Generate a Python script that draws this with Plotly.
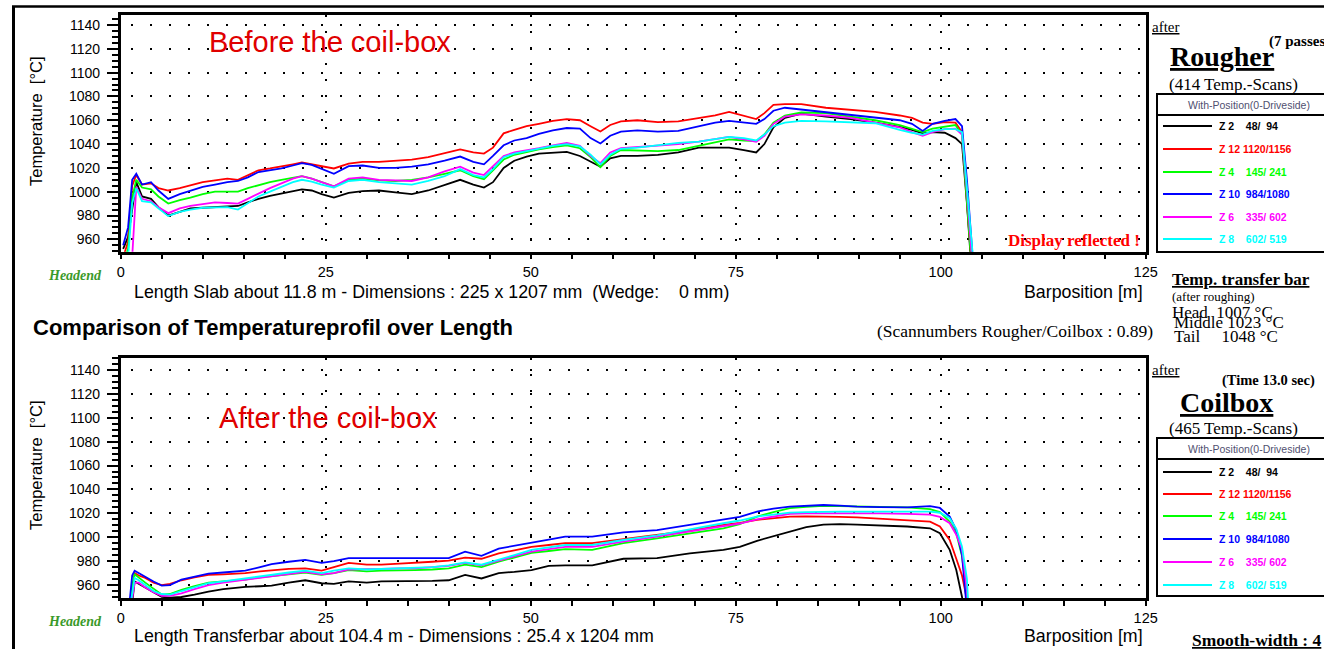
import plotly.graph_objects as go

# ---------------- data ----------------
# Rougher (before the coil-box): bar position [m]
X_TOP = [0.3, 0.9, 1.4, 1.9, 2.6, 3.7, 4.6, 5.8, 7.2, 8.5, 10.0, 11.5, 13.0, 14.3, 15.5, 16.8,
         18.2, 19.6, 21.0, 22.1, 23.3, 24.5, 26.0, 27.8, 29.5, 31.5, 33.5, 35.5, 37.5, 39.5,
         41.4, 43.0, 44.3, 45.4, 46.7, 48.0, 49.5, 51.0, 52.7, 54.4, 56.0, 57.3, 58.5, 59.7,
         61.0, 63.0, 65.5, 68.0, 70.5, 72.5, 74.2, 76.0, 77.5, 78.5, 79.6, 81.0, 83.0, 86.0,
         89.0, 92.0, 95.0, 96.5, 97.8, 99.0, 100.5, 101.8, 102.6, 103.2, 103.9]
TOP_Z2 = [952, 962, 985, 1008, 996, 994, 987, 980, 983, 986, 986.5, 987, 988, 988, 991, 994,
          996.5, 998.5, 1000.5, 1002, 1001, 998, 995, 999, 1000.5, 1001, 999.5, 998, 1001, 1005.5,
          1010, 1006, 1003.5, 1008, 1020, 1026, 1029.5, 1032, 1033, 1033.5, 1030, 1025, 1021, 1028,
          1030, 1030, 1031, 1033, 1037, 1037, 1037, 1035, 1033, 1040, 1054, 1062, 1065.5, 1063,
          1061, 1058, 1054.5, 1052, 1049, 1050, 1049.5, 1045, 1040, 990, 920]
TOP_Z12 = [945, 958, 1005, 1014, 1006, 1007, 1003, 1001, 1003, 1005.5, 1008, 1009.5, 1011, 1010, 1014, 1018,
           1019.5, 1021, 1023, 1024.5, 1023, 1021, 1019.5, 1023.5, 1025, 1025, 1026, 1027, 1029, 1032.5,
           1035.5, 1033, 1032, 1037, 1049, 1052, 1055, 1057, 1059.5, 1061, 1060, 1055, 1050.5, 1056,
           1059, 1060, 1058.5, 1059, 1061.5, 1064, 1067, 1064, 1061, 1066, 1073, 1073.5, 1073.5, 1070.5,
           1069, 1067, 1064, 1062, 1058, 1057, 1058.5, 1058, 1050, 1000, 925]
TOP_Z4 = [940, 952, 995, 1010, 1003.5, 1002, 996, 990, 993, 995, 998, 1000, 1000, 1000, 1003, 1005.5,
          1008, 1010, 1011.5, 1013, 1011, 1008, 1004.5, 1010, 1011, 1009.5, 1009, 1010, 1012, 1015,
          1018, 1013, 1010.5, 1018, 1027, 1031, 1033.5, 1035.5, 1037.5, 1039, 1036.5, 1029, 1020.5, 1030,
          1035, 1034.5, 1034, 1035, 1038.5, 1041, 1044, 1043, 1042.5, 1048, 1058, 1064, 1066.5, 1066,
          1063, 1060, 1056, 1053, 1050, 1053, 1054.5, 1056, 1048, 995, 925]
TOP_Z10 = [955, 970, 1010, 1015, 1006, 1008, 1001, 994, 998, 1001, 1004, 1006, 1008, 1009, 1012, 1016.5,
           1018, 1019.5, 1022, 1024, 1022.5, 1019, 1015, 1021.5, 1022, 1020, 1020, 1021, 1023, 1026,
           1029.5, 1025, 1023, 1030, 1039, 1043, 1045, 1048.5, 1051.5, 1053.5, 1053, 1045, 1040.5, 1047,
           1050.5, 1051.5, 1050.5, 1051, 1055, 1058, 1059.5, 1058, 1057, 1061, 1068, 1070.5, 1069, 1067,
           1064.5, 1062, 1060, 1057, 1051, 1057, 1059.5, 1061, 1055, 1010, 945]
TOP_Z6 = [900, 920, 945, 1004, 994, 992, 987, 982, 986, 988, 989.5, 991, 990.5, 990, 994, 998.5,
          1003, 1007, 1011, 1013, 1011, 1008, 1004.5, 1011, 1012, 1010, 1009.5, 1009, 1012, 1017,
          1021, 1016, 1014, 1021, 1030, 1033, 1034.5, 1036.5, 1039, 1041, 1038.5, 1030, 1024, 1033,
          1036.5, 1037.5, 1038.5, 1040, 1042, 1044, 1046, 1044, 1042, 1047, 1057, 1063, 1065, 1064,
          1062, 1058, 1054, 1050, 1047, 1050, 1052.5, 1053, 1048, 1000, 935]
TOP_Z8 = [935, 945, 990, 1003, 992, 991, 986, 979.5, 983, 985, 986.5, 987, 987, 985, 990, 996,
          1000, 1004, 1008, 1010, 1008.5, 1006, 1003.5, 1009, 1010, 1008, 1007, 1006, 1009, 1013,
          1019, 1014, 1012, 1019, 1029, 1032, 1034, 1036, 1038.5, 1040, 1038, 1031, 1023, 1031,
          1036, 1037, 1039, 1041, 1042, 1044, 1046, 1045, 1043, 1048, 1055, 1058, 1059.5, 1059,
          1058.5, 1057.5, 1052, 1049.5, 1048, 1051, 1052.5, 1052.5, 1050, 1005, 948]

# Coilbox (after the coil-box): bar position [m]
X_BOT = [1.0, 1.4, 1.7, 2.2, 3.0, 4.0, 5.0, 6.0, 7.4, 9.0, 10.7, 12.5, 15.2, 17.0, 18.4, 20.5,
         22.5, 24.5, 26.0, 27.8, 30.0, 31.8, 34.0, 35.9, 38.0, 40.0, 42.0, 44.0, 46.1, 48.0,
         50.1, 52.2, 54.2, 57.5, 61.3, 65.4, 69.4, 73.5, 75.5, 77.6, 79.6, 81.6, 83.6, 85.7,
         87.7, 89.8, 92.5, 95.9, 98.7, 99.9, 101.1, 101.9, 102.6, 103.2, 103.7]
BOT_Z2 = [930, 945, 963, 961, 958, 954, 950, 949.5, 950, 952, 954.5, 956.5, 958.5, 959, 959.5, 962,
          964, 961.5, 961, 963, 962, 963, 963, 963.5, 963.5, 964, 968.5, 965.5, 970, 971,
          972.5, 976, 976.5, 976.5, 982, 982.5, 986.5, 989.5, 992, 997, 1001, 1004.7, 1008.5, 1010.5,
          1010.9, 1010.5, 1009.8, 1009, 1007.5, 1003.3, 989.4, 972.6, 950, 920, 900]
BOT_Z12 = [930, 955, 970, 968, 966, 962, 960, 961, 964, 966.5, 968.5, 969, 970, 971.5, 972.5, 973.5,
           974, 972, 975, 978.5, 977, 977, 978, 979, 979.5, 980.5, 983, 982, 986.5, 989,
           992, 993.5, 995, 995, 998.3, 1002, 1005.5, 1010.3, 1012, 1014.5, 1016, 1017.3, 1017.5, 1017.5,
           1017, 1016.7, 1015.5, 1014, 1013, 1009, 997.7, 982, 968, 948, 900]
BOT_Z4 = [930, 960, 969, 966, 962, 957, 952, 952.5, 956, 959, 962, 963, 964.5, 966.5, 967.5, 969,
          970.5, 968.5, 970, 972.5, 971.5, 972, 972, 972.5, 973, 974, 977, 975, 979.5, 983,
          987, 988.5, 990, 989.5, 995, 999, 1003.3, 1007.5, 1011, 1017.3, 1021, 1024.3, 1025.5, 1026.2,
          1026, 1025.8, 1025.2, 1025, 1023.5, 1021, 1013, 1003.3, 984, 950, 900]
BOT_Z10 = [940, 968, 972, 970, 966.5, 963, 959.5, 960, 964.5, 967, 969.5, 970.5, 972, 975, 977.5, 979.5,
           981, 978.5, 980, 982.5, 982.5, 983, 983, 983, 983, 982.5, 988, 984.5, 990.5, 993,
           995.5, 998, 1000.5, 1000.5, 1004, 1006, 1010.3, 1014.5, 1017, 1021.5, 1024, 1025.6, 1026.5, 1027,
           1026.5, 1025.6, 1025.2, 1025, 1026, 1024.5, 1017.3, 1006, 985, 930, 900]
BOT_Z6 = [930, 950, 962, 962, 958, 954, 951, 951, 953, 956.5, 960, 962, 964.5, 966, 967.5, 969.5,
          971, 969, 970, 973, 973, 973.5, 974, 974, 975, 976, 978.5, 976.5, 980.5, 984,
          988, 990, 992, 992, 996.4, 1000.5, 1004.7, 1009, 1011.5, 1015, 1017.5, 1019.5, 1020, 1020.1,
          1020, 1020, 1020, 1019.5, 1019, 1017, 1011.7, 1002, 990, 955, 900]
BOT_Z8 = [935, 955, 966, 964, 960, 955, 952.5, 952, 955, 958, 961.5, 963, 965.5, 967.5, 969, 970.5,
          972, 970, 972, 974, 973, 973.5, 974, 974.5, 975, 976.5, 979, 977, 981, 985,
          989.5, 991.5, 993.5, 993.5, 997.7, 1001.5, 1006.7, 1011.7, 1014, 1017.3, 1019, 1020.6, 1021, 1021.5,
          1021.5, 1021.5, 1021.5, 1021.5, 1021.5, 1020.5, 1015.9, 1007, 992, 965, 900]

SERIES_NAMES = ["Z 2    48/  94", "Z 12 1120/1156", "Z 4    145/ 241",
                "Z 10  984/1080", "Z 6    335/ 602", "Z 8    602/ 519"]
SERIES_COLORS = ["#000000", "#ff0000", "#00ff00", "#0000ff", "#ff00ff", "#00ffff"]
Y_TICKS = [960, 980, 1000, 1020, 1040, 1060, 1080, 1100, 1120, 1140]
X_TICKS = [0, 25, 50, 75, 100, 125]

# ---------------- layout helpers ----------------
W, H = 1324, 649
def px(x): return x / W
def py(y): return 1 - y / H

SANS = "Liberation Sans, Arial, sans-serif"
SERIF = "Liberation Serif, Times New Roman, serif"
NB = "\u00a0"

PLOT_L, PLOT_R = 120.7, 1145.7
TOP_T, TOP_B = 15.0, 251.7
BOT_T, BOT_B = 358.0, 598.3
TOP_RANGE = [949.6, 1148.4]
BOT_RANGE = [948.9, 1150.0]
XDOM = [px(PLOT_L), px(PLOT_R)]

fig = go.Figure()
top_series = [TOP_Z2, TOP_Z12, TOP_Z4, TOP_Z10, TOP_Z6, TOP_Z8]
bot_series = [BOT_Z2, BOT_Z12, BOT_Z4, BOT_Z10, BOT_Z6, BOT_Z8]
for vals, col, name in zip(top_series, SERIES_COLORS, SERIES_NAMES):
    fig.add_trace(go.Scatter(x=X_TOP, y=vals, mode="lines", name=name,
                             line=dict(color=col, width=1.8), xaxis="x", yaxis="y",
                             showlegend=False, hoverinfo="skip"))
for vals, col, name in zip(bot_series, SERIES_COLORS, SERIES_NAMES):
    fig.add_trace(go.Scatter(x=X_BOT, y=vals, mode="lines", name=name,
                             line=dict(color=col, width=1.8), xaxis="x2", yaxis="y2",
                             showlegend=False, hoverinfo="skip"))


def x_base(anchor):
    return dict(domain=XDOM, anchor=anchor, range=[0, 125], tickmode="array",
                tickvals=X_TICKS, ticktext=[str(v) for v in X_TICKS],
                ticks="outside", ticklen=5, tickwidth=2, tickcolor="black",
                minor=dict(tick0=0, dtick=5, ticks="outside", ticklen=5, tickwidth=2,
                           tickcolor="black", showgrid=False),
                showgrid=True, gridcolor="black", gridwidth=2, griddash="2px,14px",
                showline=True, linecolor="black", linewidth=2.5, mirror=True,
                zeroline=False, fixedrange=True, ticklabelstandoff=0,
                tickfont=dict(family=SANS, size=14.5, color="black"))


def y_base(anchor, dom, rng):
    return dict(domain=dom, anchor=anchor, range=rng, tickmode="array",
                tickvals=Y_TICKS, ticktext=[str(v) for v in Y_TICKS],
                ticks="outside", ticklen=11, tickwidth=2, tickcolor="black",
                minor=dict(tick0=960, dtick=5, ticks="outside", ticklen=6, tickwidth=2,
                           tickcolor="black", showgrid=False),
                showgrid=True, gridcolor="black", gridwidth=2, griddash="0px,10px,2px,7px",
                showline=True, linecolor="black", linewidth=2.5, mirror=True,
                zeroline=False, fixedrange=True, ticklabelstandoff=4,
                tickfont=dict(family=SANS, size=14, color="black"))


def x_over(over, anchor):
    return dict(domain=XDOM, overlaying=over, anchor=anchor, range=[0, 125],
                tickmode="array", tickvals=X_TICKS, ticks="inside", ticklen=5, tickwidth=2,
                tickcolor="black",
                minor=dict(tick0=0, dtick=5, ticks="inside", ticklen=5, tickwidth=2,
                           tickcolor="black", showgrid=False),
                showticklabels=False, showgrid=False, showline=False, zeroline=False,
                fixedrange=True)


def y_over(over, anchor, dom, rng):
    return dict(domain=dom, overlaying=over, anchor=anchor, side="left", range=rng,
                tickmode="array", tickvals=Y_TICKS, ticks="inside", ticklen=12, tickwidth=2,
                tickcolor="black",
                minor=dict(tick0=960, dtick=5, ticks="inside", ticklen=7, tickwidth=2,
                           tickcolor="black", showgrid=False),
                showticklabels=False, showgrid=False, showline=False, zeroline=False,
                fixedrange=True)


TOP_DOM = [py(TOP_B), py(TOP_T)]
BOT_DOM = [py(BOT_B), py(BOT_T)]


def ann(text, x, y, size, family=SANS, color="black", xanchor="center", angle=0):
    return dict(text=text, x=px(x), y=py(y), xref="paper", yref="paper", showarrow=False,
                font=dict(family=family, size=size, color=color), xanchor=xanchor,
                yanchor="middle", textangle=angle, borderpad=0)


annotations = [
    ann("Before the coil-box", 330, 42, 29, color="#e00000"),
    ann("After the coil-box", 328, 418, 29, color="#e00000"),
    ann("Temperature" + NB + NB + "[°C]", 36, 122, 16.5, angle=-90),
    ann("Temperature" + NB + NB + "[°C]", 36, 466, 16.5, angle=-90),
    ann("<b><i>Headend</i></b>", 75, 275, 14, family=SERIF, color="#3a9a2a"),
    ann("<b><i>Headend</i></b>", 75, 621, 14, family=SERIF, color="#3a9a2a"),
    ann("Length Slab about 11.8 m - Dimensions : 225 x 1207 mm" + NB + NB + "(Wedge:" + NB * 4 + "0 mm)",
        133, 292, 17.8, xanchor="left"),
    ann("Length Transferbar about 104.4 m - Dimensions : 25.4 x 1204 mm", 133, 636, 17.8,
        xanchor="left"),
    ann("Barposition [m]", 1144, 292, 17.8, xanchor="right"),
    ann("Barposition [m]", 1144, 636, 17.8, xanchor="right"),
    ann("<b>Comparison of Temperatureprofil over Length</b>", 32, 327, 22, xanchor="left"),
    ann("(Scannumbers Rougher/Coilbox : 0.89)", 1154, 331, 17.5, family=SERIF, xanchor="right"),
    ann("<b>Display reflected !</b>", 1141, 240, 17, family=SERIF, color="#ff0000", xanchor="right"),
    # right panel - rougher
    ann("<u>after</u>", 1151, 27, 15, family=SERIF, xanchor="left"),
    ann("<b><u>Rougher</u></b>", 1222, 56, 28, family=SERIF),
    ann("<b>(7 passes)</b>", 1268, 42, 15, family=SERIF, xanchor="left"),
    ann("(414 Temp.-Scans)", 1233, 85, 17, family=SERIF),
    ann("<b><u>Temp. transfer bar</u></b>", 1171, 279, 17, family=SERIF, xanchor="left"),
    ann("(after roughing)", 1171, 296, 13, family=SERIF, xanchor="left"),
    ann("Head" + NB + NB + "1007 °C", 1171, 312, 17, family=SERIF, xanchor="left"),
    ann("Middle 1023 °C", 1173, 323, 17, family=SERIF, xanchor="left"),
    ann("Tail" + NB * 5 + "1048 °C", 1173, 336, 17, family=SERIF, xanchor="left"),
    # right panel - coilbox
    ann("<u>after</u>", 1151, 370, 15, family=SERIF, xanchor="left"),
    ann("<b>(Time 13.0 sec)</b>", 1221, 380, 14.5, family=SERIF, xanchor="left"),
    ann("<b><u>Coilbox</u></b>", 1226, 402, 28, family=SERIF),
    ann("(465 Temp.-Scans)", 1233, 428, 17, family=SERIF),
    ann("<b><u>Smooth-width : 4</u></b>", 1191, 640, 17.5, family=SERIF, xanchor="left"),
]

shapes = [
    # outer frame (cropped at right/bottom)
    dict(type="line", xref="paper", yref="paper", x0=px(13.5), x1=px(13.5), y0=py(6), y1=py(660),
         line=dict(color="black", width=3)),
    dict(type="line", xref="paper", yref="paper", x0=px(12), x1=px(1340), y0=py(6.5), y1=py(6.5),
         line=dict(color="black", width=2.5)),
]


def add_legend(box_top, divider, box_bottom, header_y, rows):
    shapes.append(dict(type="rect", xref="paper", yref="paper", x0=px(1157), x1=px(1345),
                       y0=py(box_bottom), y1=py(box_top), line=dict(color="black", width=2)))
    shapes.append(dict(type="line", xref="paper", yref="paper", x0=px(1157), x1=px(1345),
                       y0=py(divider), y1=py(divider), line=dict(color="black", width=2)))
    annotations.append(ann("With-Position(0-Driveside)", 1249, header_y, 10.5, color="#505070"))
    for ry, col, name in zip(rows, SERIES_COLORS, SERIES_NAMES):
        shapes.append(dict(type="line", xref="paper", yref="paper", x0=px(1163), x1=px(1212),
                           y0=py(ry), y1=py(ry), line=dict(color=col, width=2)))
        annotations.append(ann("<b>" + name.replace(" ", NB) + "</b>", 1218, ry, 10.5,
                               color=col, xanchor="left"))


add_legend(94, 115, 252, 105, [126, 149, 172, 194, 217, 239])
add_legend(438, 459, 596, 449, [472, 494, 516, 539, 562, 585])

fig.update_layout(
    width=W, height=H, autosize=False,
    margin=dict(l=0, r=0, t=0, b=0, pad=0, autoexpand=False),
    paper_bgcolor="white", plot_bgcolor="white",
    showlegend=False,
    xaxis=x_base("y"),
    yaxis=y_base("x", TOP_DOM, TOP_RANGE),
    xaxis2=x_base("y2"),
    yaxis2=y_base("x2", BOT_DOM, BOT_RANGE),
    xaxis3=x_over("x", "y"),
    yaxis3=y_over("y", "x", TOP_DOM, TOP_RANGE),
    xaxis4=x_over("x2", "y2"),
    yaxis4=y_over("y2", "x2", BOT_DOM, BOT_RANGE),
    annotations=annotations,
    shapes=shapes,
)

fig.write_html("out.html")
